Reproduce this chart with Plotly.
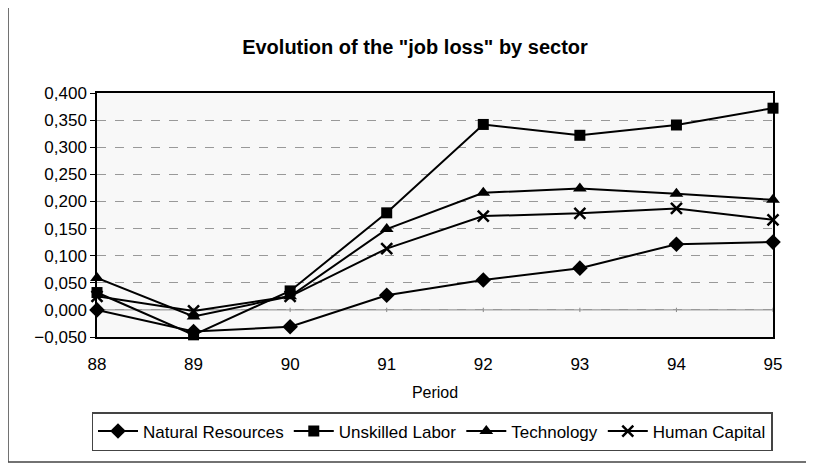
import plotly.graph_objects as go

periods = [88, 89, 90, 91, 92, 93, 94, 95]
natural_resources = [0.000, -0.040, -0.031, 0.027, 0.055, 0.077, 0.121, 0.125]
unskilled_labor = [0.032, -0.046, 0.035, 0.179, 0.342, 0.322, 0.341, 0.372]
technology = [0.059, -0.012, 0.025, 0.149, 0.216, 0.224, 0.214, 0.203]
human_capital = [0.025, -0.002, 0.025, 0.113, 0.173, 0.178, 0.187, 0.166]
y_ticks = [-0.05, 0.0, 0.05, 0.1, 0.15, 0.2, 0.25, 0.3, 0.35, 0.4]

series = [
    ("Natural Resources", natural_resources, dict(symbol="diamond", size=12)),
    ("Unskilled Labor", unskilled_labor, dict(symbol="square", size=11)),
    ("Technology", technology, dict(symbol="triangle-up", size=12)),
    ("Human Capital", human_capital, dict(symbol="x-thin", size=11,
                                          line=dict(width=2.5, color="black"))),
]

# page body has an 8px margin; figure is offset by it
W, H = 806, 457
L, R, T, B = 89, 41, 85, 128
PW, PH = W - L - R, H - T - B

FONT = "Liberation Sans, Arial, sans-serif"
fig = go.Figure()
for name, vals, mk in series:
    fig.add_trace(go.Scatter(
        x=periods, y=vals, name=name, mode="lines+markers",
        line=dict(color="black", width=2),
        marker=dict(color="black", **mk),
        cliponaxis=False,
    ))

# zero line with category ticks
fig.add_shape(type="line", xref="x", yref="y", x0=88, x1=95, y0=0, y1=0,
              line=dict(color="#888", width=1), layer="below")
for p in periods:
    fig.add_shape(type="line", xref="x", yref="y", x0=p, x1=p, y0=-0.004, y1=0.004,
                  line=dict(color="#888", width=1), layer="below")

# outer chart frame
fig.add_shape(type="rect", xref="paper", yref="paper",
              x0=(0 - L) / PW, x1=(W + 40 - L) / PW,
              y0=(T + PH - (H - 3)) / PH, y1=(T + PH + 5) / PH,
              line=dict(color="#444", width=1.5), layer="below")

fig.update_layout(
    width=W, height=H,
    margin=dict(l=L, r=R, t=T, b=B, autoexpand=False),
    paper_bgcolor="white",
    plot_bgcolor="#f8f8f8",
    separators=",.",
    font=dict(family=FONT, size=17, color="black"),
    title=dict(text='<b>Evolution of the "job loss" by sector</b>',
               x=(415 - 8 - L) / PW, xanchor="center", xref="paper",
               y=1 - 39 / H, yanchor="middle",
               font=dict(family=FONT, size=20, color="black")),
    xaxis=dict(range=[88, 95], tickvals=periods, ticktext=[str(p) for p in periods],
               showgrid=False, zeroline=False, showline=True, linecolor="black",
               linewidth=1.5, mirror=True, ticks="", ticklabelstandoff=11,
               tickfont=dict(size=17),
               title=dict(text="Period", font=dict(size=16), standoff=14)),
    yaxis=dict(range=[-0.05, 0.4], tickvals=y_ticks, tickformat=".3f",
               tickfont=dict(size=17),
               showgrid=True, gridcolor="#999", griddash="dash", gridwidth=1,
               zeroline=False, showline=True, linecolor="black", linewidth=1.5,
               mirror=True, ticks="outside", ticklen=5, tickcolor="black"),
    legend=dict(orientation="h", xref="container", x=(432 - 8) / W, xanchor="center",
                y=(337 - 412) / PH, yanchor="top", bordercolor="#444", borderwidth=1.5,
                bgcolor="white", font=dict(family=FONT, size=17), itemwidth=40,
                tracegroupgap=0),
    showlegend=True,
)

fig.write_html("out.html")
